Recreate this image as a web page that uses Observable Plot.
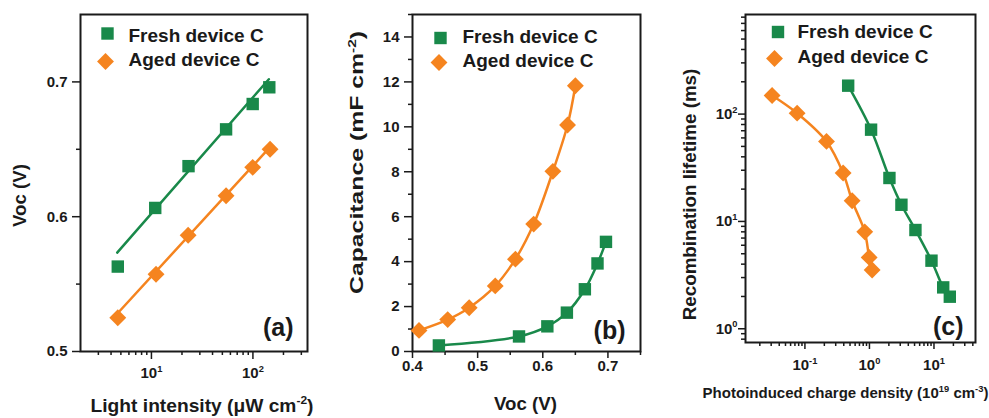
<!DOCTYPE html>
<html><head><meta charset="utf-8">
<script src="https://cdn.jsdelivr.net/npm/d3@7"></script>
<script src="https://cdn.jsdelivr.net/npm/@observablehq/plot@0.6"></script>
<style>
body{margin:0;background:#fff;}
#wrap{position:relative;width:989px;height:418px;overflow:hidden;}
.panel{position:absolute;top:0;}
.panel svg{overflow:visible;}
</style></head><body><div id="wrap"></div>
<script>
const GREEN = "#19894a", ORANGE = "#f5841f", INK = "#1a1a1a";
const FONT = "'Liberation Sans', Arial, Helvetica, sans-serif";
const seriesNames = ["Fresh device C", "Aged device C"];
const panelLabels = ["(a)", "(b)", "(c)"];

// ---- Panel (a): Voc vs light intensity
const intensityFresh = [4.66, 10.9, 23.2, 54.4, 99.5, 145];
const vocFreshA = [0.563, 0.6065, 0.6375, 0.6648, 0.6836, 0.696];
const intensityAged = [4.66, 11.1, 23.0, 54.4, 99.5, 147.6];
const vocAgedA = [0.525, 0.5573, 0.5862, 0.6155, 0.6366, 0.650];
const fitFreshIntensity = [4.6, 143.5], fitFreshVoc = [0.5734, 0.702];
const fitAgedIntensity = [4.6, 143.5], fitAgedVoc = [0.528, 0.6507];
const xMajorA = [10, 100], xMinorA = [3,4,5,6,7,8,9,20,30,40,50,60,70,80,90,200,300];
const yMajorA = [0.5, 0.6, 0.7], yMinorA = [0.55, 0.65];

// ---- Panel (b): capacitance vs Voc
const vocAgedB = [0.410, 0.454, 0.487, 0.527, 0.558, 0.586, 0.6155, 0.638, 0.650];
const capAgedB = [0.94, 1.42, 1.95, 2.92, 4.11, 5.67, 8.02, 10.08, 11.83];
const vocFreshB = [0.4405, 0.5635, 0.607, 0.637, 0.6646, 0.684, 0.697];
const capFreshB = [0.27, 0.67, 1.12, 1.73, 2.77, 3.92, 4.88];
const xMajorB = [0.4, 0.5, 0.6, 0.7], xMinorB = [0.45, 0.55, 0.65, 0.75];
const yMajorB = [0, 2, 4, 6, 8, 10, 12, 14], yMinorB = [1, 3, 5, 7, 9, 11, 13, 15];

// ---- Panel (c): lifetime vs charge density
const densAged = [0.031, 0.0757, 0.216, 0.391, 0.539, 0.845, 0.99, 1.10];
const lifeAged = [149, 102, 55.7, 28.3, 15.6, 8.0, 4.62, 3.53];
const densFresh = [0.468, 1.06, 2.04, 3.13, 5.16, 9.15, 13.9, 17.6];
const lifeFresh = [184, 71.6, 25.4, 14.3, 8.32, 4.31, 2.43, 1.99];
const xMajorC = [0.1, 1, 10];
const xMinorC = [0.02,0.03,0.04,0.05,0.06,0.07,0.08,0.09,0.2,0.3,0.4,0.5,0.6,0.7,0.8,0.9,2,3,4,5,6,7,8,9,20,30,40];
const yMajorC = [1, 10, 100];
const yMinorC = [0.8,0.9,2,3,4,5,6,7,8,9,20,30,40,50,60,70,80,90,200,300,400,500,600,700,800];

const titles = {
  a: {x: "Light intensity (μW cm^{-2})", y: "Voc (V)"},
  b: {x: "Voc (V)", y: "Capacitance (mF cm^{-2})"},
  c: {x: "Photoinduced charge density (10^{19} cm^{-3})", y: "Recombination lifetime (ms)"}
};

const rows = (xs, ys) => xs.map((x, i) => ({x, y: ys[i]}));
const supFmt = d => "10^{" + Math.round(Math.log10(d)) + "}";
const diamondSym = {draw(ctx, size) {const r = Math.sqrt(size) * 0.62625; ctx.moveTo(0, -r); ctx.lineTo(r, 0); ctx.lineTo(0, r); ctx.lineTo(-r, 0); ctx.closePath();}};

function axes(o) {
  return [
    Plot.axisX(o.xMajor, {anchor: "bottom", tickSize: o.xt, tickPadding: o.xp, tickFormat: o.xFmt, fontSize: 15, label: null, strokeWidth: 1.5, stroke: INK}),
    Plot.axisX(o.xMinor, {anchor: "bottom", tickSize: 4, tickFormat: () => "", label: null, strokeWidth: 1.5, stroke: INK}),
    Plot.axisY(o.yMajor, {anchor: "left", tickSize: o.yt, tickPadding: o.yp, tickFormat: o.yFmt, fontSize: 15, label: null, strokeWidth: 1.5, stroke: INK}),
    Plot.axisY(o.yMinor, {anchor: "left", tickSize: 4, tickFormat: () => "", label: null, strokeWidth: 1.5, stroke: INK}),
    Plot.frame({stroke: INK, strokeWidth: 2})
  ];
}
function legend(L) {
  return [
    Plot.dot([seriesNames[0]], {frameAnchor: "top-left", dx: L.sx, dy: L.sy, symbol: "square", r: 7, fill: GREEN}),
    Plot.dot([seriesNames[1]], {frameAnchor: "top-left", dx: L.dx, dy: L.dy, symbol: diamondSym, r: 7.6, fill: ORANGE}),
    Plot.text([seriesNames[0]], {frameAnchor: "top-left", dx: L.tx, dy: L.t1, textAnchor: "start", lineAnchor: "bottom", fontSize: 19, fill: INK}),
    Plot.text([seriesNames[1]], {frameAnchor: "top-left", dx: L.tx, dy: L.t2, textAnchor: "start", lineAnchor: "bottom", fontSize: 19, fill: INK})
  ];
}
function labels(T, P, letter) {
  return [
    Plot.text([T.x], {frameAnchor: "bottom", dx: P.xdx, dy: P.xdy, textAnchor: "middle", lineAnchor: "bottom", fontSize: P.xfs, fill: INK}),
    Plot.text([T.y], {frameAnchor: "left", dx: P.ydx, dy: P.ydy, rotate: -90, textAnchor: "middle", lineAnchor: "middle", fontSize: 18, fill: INK}),
    Plot.text([letter], {frameAnchor: "bottom-right", dx: P.ldx, dy: P.ldy, textAnchor: "end", lineAnchor: "bottom", fontSize: 25, fill: INK})
  ];
}
const baseStyle = {fontFamily: FONT, fontWeight: "bold", color: INK, background: "transparent", overflow: "visible"};

const plotA = Plot.plot({
  width: 330, height: 418, marginLeft: 80, marginRight: 23, marginTop: 14, marginBottom: 67,
  style: baseStyle,
  x: {type: "log", domain: [2, 345]},
  y: {domain: [0.5, 0.75]},
  marks: [
    ...axes({xMajor: xMajorA, xMinor: xMinorA, yMajor: yMajorA, yMinor: yMinorA, xt: 8, xp: 8, yt: 8, yp: 5, xFmt: supFmt, yFmt: d3.format(".1f")}),
    Plot.line(rows(fitFreshIntensity, fitFreshVoc), {x: "x", y: "y", stroke: GREEN, strokeWidth: 2.5}),
    Plot.line(rows(fitAgedIntensity, fitAgedVoc), {x: "x", y: "y", stroke: ORANGE, strokeWidth: 2.5}),
    Plot.dot(rows(intensityFresh, vocFreshA), {x: "x", y: "y", symbol: "square", r: 7, fill: GREEN}),
    Plot.dot(rows(intensityAged, vocAgedA), {x: "x", y: "y", symbol: diamondSym, r: 7.6, fill: ORANGE}),
    ...legend({sx: 27, sy: 19, dx: 25, dy: 47, tx: 48, t1: 27, t2: 51}),
    ...labels(titles.a, {xdx: 8, xdy: 60, xfs: 18, ydx: -60, ydy: 12.5, ldx: -14, ldy: -16}, panelLabels[0])
  ]
});

const plotB = Plot.plot({
  width: 330, height: 418, marginLeft: 82, marginRight: 20, marginTop: 14, marginBottom: 67,
  style: baseStyle,
  x: {domain: [0.4, 0.75]},
  y: {domain: [0, 15]},
  marks: [
    ...axes({xMajor: xMajorB, xMinor: xMinorB, yMajor: yMajorB, yMinor: yMinorB, xt: 7, xp: 2, yt: 8, yp: 5, xFmt: d3.format(".1f"), yFmt: d3.format("d")}),
    Plot.line(rows(vocAgedB, capAgedB), {x: "x", y: "y", stroke: ORANGE, strokeWidth: 2.5, curve: "catmull-rom"}),
    Plot.line(rows(vocFreshB, capFreshB), {x: "x", y: "y", stroke: GREEN, strokeWidth: 2.5, curve: "catmull-rom"}),
    Plot.dot(rows(vocFreshB, capFreshB), {x: "x", y: "y", symbol: "square", r: 7, fill: GREEN}),
    Plot.dot(rows(vocAgedB, capAgedB), {x: "x", y: "y", symbol: diamondSym, r: 7.6, fill: ORANGE}),
    ...legend({sx: 28, sy: 23.5, dx: 26.5, dy: 48, tx: 50, t1: 28, t2: 52}),
    ...labels(titles.b, {xdx: -1, xdy: 58, xfs: 18, ydx: -55, ydy: -20.5, ldx: -15, ldy: -13}, panelLabels[1])
  ]
});

const plotC = Plot.plot({
  width: 329, height: 418, marginLeft: 85, marginRight: 14, marginTop: 14, marginBottom: 76,
  style: baseStyle,
  x: {type: "log", domain: [0.012, 44]},
  y: {type: "log", domain: [0.745, 847]},
  marks: [
    ...axes({xMajor: xMajorC, xMinor: xMinorC, yMajor: yMajorC, yMinor: yMinorC, xt: 7, xp: 10, yt: 7, yp: 1, xFmt: supFmt, yFmt: supFmt}),
    Plot.line(rows(densAged, lifeAged), {x: "x", y: "y", stroke: ORANGE, strokeWidth: 2.5, curve: "catmull-rom"}),
    Plot.line(rows(densFresh, lifeFresh), {x: "x", y: "y", stroke: GREEN, strokeWidth: 2.5, curve: "catmull-rom"}),
    Plot.dot(rows(densFresh, lifeFresh), {x: "x", y: "y", symbol: "square", r: 7, fill: GREEN}),
    Plot.dot(rows(densAged, lifeAged), {x: "x", y: "y", symbol: diamondSym, r: 7.6, fill: ORANGE}),
    ...legend({sx: 32.5, sy: 17.5, dx: 29, dy: 44, tx: 52, t1: 23.5, t2: 48.5}),
    ...labels(titles.c, {xdx: -15, xdy: 55, xfs: 14, ydx: -55, ydy: 16, ldx: -12, ldy: -8}, panelLabels[2])
  ]
});

const wrap = document.getElementById("wrap");
[[plotA, 0], [plotB, 330], [plotC, 660]].forEach(([svg, left]) => {
  const d = document.createElement("div");
  d.className = "panel";
  d.style.left = left + "px";
  d.appendChild(svg);
  wrap.appendChild(d);
});

const NS = "http://www.w3.org/2000/svg";
const findText = (svg, s) => [...svg.querySelectorAll("text")].find(t => t.textContent === s);
// record title elements and their target widths before rich formatting
const fits = [
  [findText(plotA, titles.a.x), 223], [findText(plotA, titles.a.y), 63],
  [findText(plotB, titles.b.x), 63], [findText(plotB, titles.b.y), 263],
  [findText(plotC, titles.c.x), 286], [findText(plotC, titles.c.y), 252]
];
function richify(svg) {
  svg.querySelectorAll("text").forEach(t => {
    const s = t.textContent;
    if (!s.includes("^{")) return;
    const fs = parseFloat(getComputedStyle(t).fontSize);
    t.textContent = "";
    let raised = false;
    s.split(/(\^\{[^}]*\})/).forEach(p => {
      if (!p) return;
      const ts = document.createElementNS(NS, "tspan");
      if (p.startsWith("^{")) {
        ts.textContent = p.slice(2, -1);
        ts.setAttribute("font-size", (fs * 0.62).toFixed(1));
        ts.setAttribute("dy", (-fs * 0.42).toFixed(1));
        raised = true;
      } else {
        ts.textContent = p;
        if (raised) { ts.setAttribute("dy", (fs * 0.42).toFixed(1)); raised = false; }
      }
      t.appendChild(ts);
    });
  });
}
[plotA, plotB, plotC].forEach(richify);
fits.forEach(([t, target]) => {
  if (!t) return;
  const w = t.getBBox().width;
  if (!w) return;
  const tr = t.getAttribute("transform") || "";
  const x = t.getAttribute("x");
  if (x && !tr) {
    // move position into transform so scaling keeps the anchor
    const y = t.getAttribute("y") || "0";
    t.setAttribute("transform", `translate(${x},0) scale(${(target / w).toFixed(3)},1)`);
    t.setAttribute("x", 0);
  } else {
    t.setAttribute("transform", tr + ` scale(${(target / w).toFixed(3)},1)`);
  }
});
</script></body></html>
